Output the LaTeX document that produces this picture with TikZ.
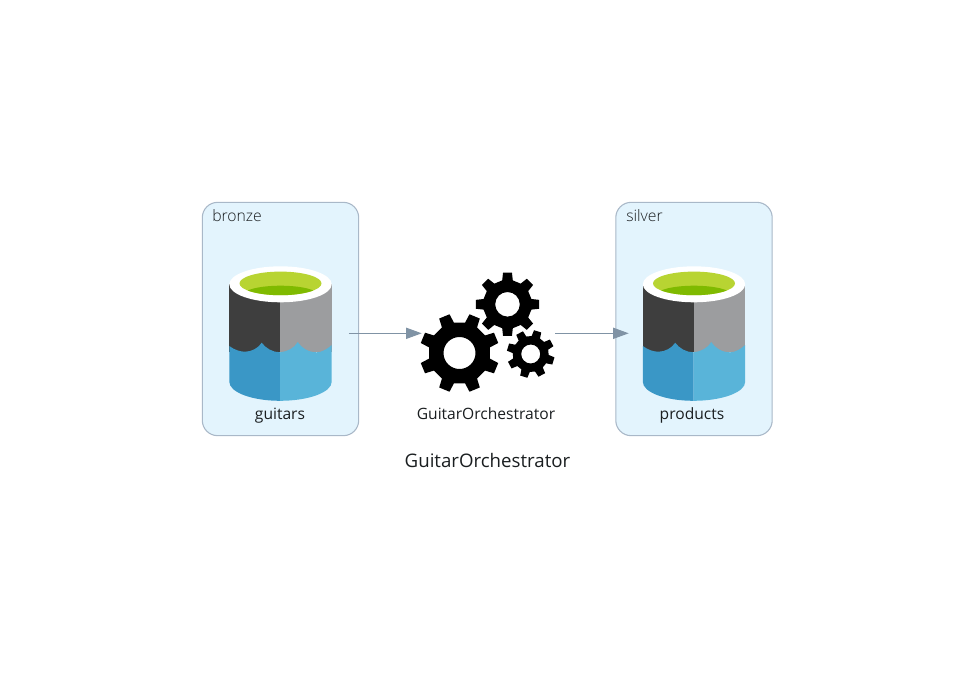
\documentclass[tikz,border=0pt]{standalone}
\usepackage{fontspec}
\setmainfont{Open Sans}
\newfontfamily\lightfont{Open Sans Light}
\usetikzlibrary{arrows.meta}
\definecolor{clusterfill}{HTML}{E3F4FD}
\definecolor{clusterline}{HTML}{A9B8C8}
\definecolor{flowline}{HTML}{8093A5}
\definecolor{inktext}{HTML}{1A1E20}
\definecolor{rimgreen}{HTML}{B8D432}
\definecolor{lowgreen}{HTML}{7FBA00}
\definecolor{darkwall}{HTML}{3E3E3E}
\definecolor{greywall}{HTML}{9C9D9F}
\definecolor{darkwater}{HTML}{3A97C6}
\definecolor{lightwater}{HTML}{59B4D9}
\tikzset{
  cluster/.style={draw=clusterline,fill=clusterfill,line width=0.8pt,rounded corners=11.5pt,minimum width=117.3pt,minimum height=175pt,inner sep=0pt},
  clustertitle/.style={anchor=base west,inner sep=0pt,font=\fontsize{11.8pt}{14pt}\selectfont,text=inktext},
  iconlabel/.style={anchor=base,inner sep=0pt,font=\fontsize{11.7pt}{14pt}\selectfont,text=inktext},
  pagetitle/.style={anchor=base,inner sep=0pt,font=\fontsize{14pt}{16pt}\selectfont,text=inktext},
  anchorbox/.style={inner sep=0pt,minimum height=10pt},
  flow/.style={draw=flowline,line width=0.8pt,-{Triangle[length=11.8pt,width=8.4pt,fill=flowline]}}
}
\newcommand{\storagecyl}[1]{%
  \begin{scope}[shift={(#1,0)}]
    \fill[darkwall] (-51.2,284) -- (-0.5,284) -- (-0.5,352.3) -- (-51.2,352.3) -- cycle;
    \fill[greywall] (-0.5,284) -- (51.2,284) -- (51.2,352.3) -- (-0.5,352.3) -- cycle;
    \fill[darkwater] (-51.2,346) .. controls (-46,350) and (-40,351.7) .. (-35.5,351.7)
      .. controls (-29,351.7) and (-22,348) .. (-18.8,342.7)
      .. controls (-15,348) and (-8,352.3) .. (-0.5,352.3)
      -- (-0.5,400.8) arc[start angle=90,end angle=180,x radius=50.7,y radius=19] -- cycle;
    \fill[lightwater] (-0.5,352.3) .. controls (7,351.5) and (14,348) .. (17.2,342)
      .. controls (21,348) and (28,352.3) .. (36.2,352.3)
      .. controls (41,352.3) and (47,349) .. (51.2,345)
      -- (51.2,381.8) arc[start angle=0,end angle=90,x radius=51.7,y radius=19] -- cycle;
    \fill[white] (0,284.3) ellipse[x radius=51.2,y radius=18];
    \fill[rimgreen] (0,283.4) ellipse[x radius=41,y radius=11.8];
    \begin{scope}
      \clip (0,283.4) ellipse[x radius=41,y radius=11.8];
      \fill[lowgreen] (0,295) ellipse[x radius=37.6,y radius=9.3];
    \end{scope}
  \end{scope}}
% centre x, centre y, rotation, tip radius, body radius, hole radius, tip half angle, base half angle
\newcommand{\cogwheel}[8]{%
  \begin{scope}[shift={(#1,#2)}]
    \fill[black,even odd rule] ({#3-#8}:#5)
      \foreach \i in {0,...,7}{
        -- ({#3+\i*45-#8}:#5) -- ({#3+\i*45-#7}:#4) -- ({#3+\i*45+#7}:#4) -- ({#3+\i*45+#8}:#5)
      } -- cycle (0,0) circle[radius=#6];
  \end{scope}}
\begin{document}
\begin{tikzpicture}[x=0.75pt,y=-0.75pt]
\useasboundingbox (0,0) rectangle (975,672);
\fill[white] (0,0) rectangle (975,672);
\node[cluster] (bronze) at (280.5,319) {};
\node[cluster] (silver) at (694,319) {};
\node[clustertitle] (bronzetitle) at (212,221) {\lightfont bronze};
\node[clustertitle] (silvertitle) at (626,221) {\lightfont silver};
\storagecyl{280.5}
\storagecyl{694}
\cogwheel{459.5}{353}{22.5}{40}{31}{16}{8}{12}
\cogwheel{507.5}{304.3}{0}{32}{24.5}{12.3}{8}{12.5}
\cogwheel{530.7}{354}{17}{24}{18}{9.5}{9}{14}
\node[iconlabel] (guitarslabel) at (280,419.5) {guitars};
\node[iconlabel] (gearlabel) at (486,419.5) {GuitarOrchestrator};
\node[iconlabel] (productslabel) at (692,419.5) {products};
\node[pagetitle] (title) at (487.5,467) {GuitarOrchestrator};
\node[anchorbox,minimum width=102pt] (guitars) at (280.5,333.3) {};
\node[anchorbox,minimum width=99.75pt] (gears) at (488.5,333.3) {};
\node[anchorbox,minimum width=97.5pt] (products) at (694,333.3) {};
\draw[flow] (guitars.east) -- (gears.west);
\draw[flow] (gears.east) -- (products.west);
\end{tikzpicture}
\end{document}
